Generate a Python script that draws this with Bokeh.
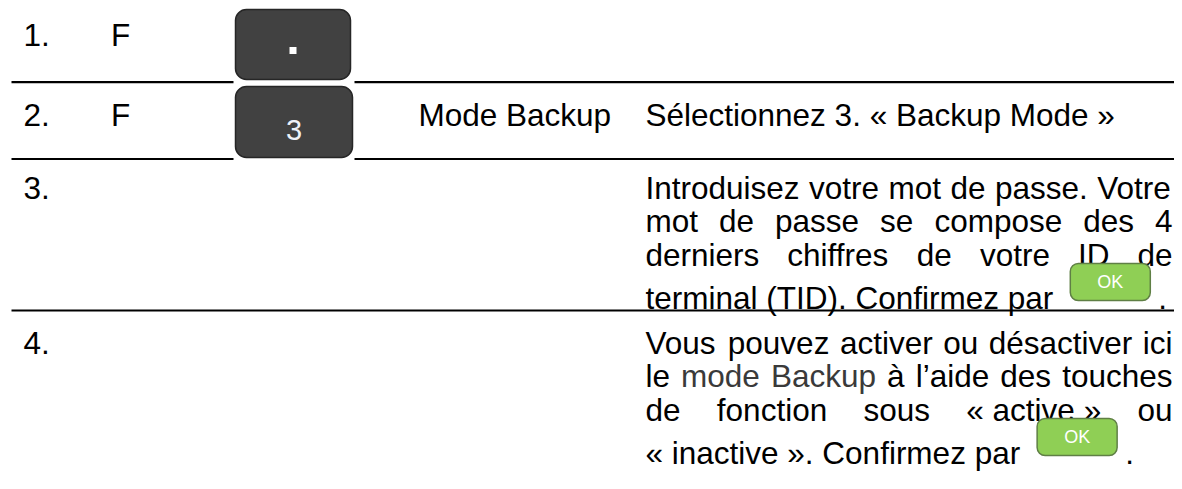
from bokeh.plotting import figure
from bokeh.models import Range1d
from bokeh.core.properties import value
from bokeh.embed import file_html
from bokeh.resources import INLINE

# ---------------- content (data) ----------------
step_numbers = ["1.", "2.", "3.", "4."]
key_letters = ["F", "F", "", ""]
function_names = ["", "Mode Backup", "", ""]
row2_text = "Sélectionnez 3. « Backup Mode »"
row3_lines = [
    "Introduisez votre mot de passe. Votre",
    "mot de passe se compose des 4",
    "derniers chiffres de votre ID de",
    "terminal (TID). Confirmez par",
]
row4_lines = [
    "Vous pouvez activer ou désactiver ici",
    "le mode Backup à l\u2019aide des touches",
    "de fonction sous \u00ab\u00a0active\u00a0» ou",
    "\u00ab\u00a0inactive\u00a0». Confirmez par",
]
gray_words = ["mode", "Backup"]   # words of row 4, line 2 printed in dark gray
key_button_labels = ["", "3"]
ok_label = "OK"

# ---------------- layout constants (screen pixels) ----------------
WIDTH, HEIGHT = 1174, 473
FONT = "Liberation Sans"
FS = 31.5
LINE = 33.5
LAST_EXTRA = 43.0
COL_X = [23.0, 110.5, 418.0, 645.0]
RIGHT = 1172.0
RULES_Y = [81.7, 158.5, 310.0]
RULE_X0, RULE_X1 = 11.0, 1182.0
ROW_BASE = [34.0, 114.0, 187.0, 342.0]
KEY_BTN = [(235.0, 350.0, 9.0, 79.0), (235.0, 352.0, 86.0, 157.0)]
GAP_X = (233.0, 354.0)
OK_W, OK_H = 80.0, 37.0

# Arial / Liberation Sans advance widths (1/1000 em)
W = {" ": 278, "\u00a0": 278, ".": 278, "(": 333, ")": 333, "\u00ab": 556, "»": 556,
     "\u2019": 222, "é": 556, "à": 556}
W.update(dict(zip("abcdefghijklmnopqrstuvwxyz",
                  [556, 556, 500, 556, 556, 278, 556, 556, 222, 222, 500, 222, 833,
                   556, 556, 556, 556, 333, 500, 278, 556, 500, 722, 500, 500, 500])))
W.update(dict(zip("ABCDEFGHIJKLMNOPQRSTUVWXYZ",
                  [667, 667, 722, 722, 667, 611, 778, 722, 278, 500, 667, 556, 833,
                   722, 778, 667, 778, 722, 667, 611, 722, 667, 944, 667, 667, 611])))
for d in "0123456789":
    W[d] = 556


def tw(s, size=FS):
    return sum(W.get(c, 556) for c in s) / 1000.0 * size


p = figure(width=WIDTH, height=HEIGHT, output_backend="svg", toolbar_location=None,
           x_range=Range1d(0, WIDTH), y_range=Range1d(HEIGHT, 0),
           x_axis_location=None, y_axis_location=None, min_border=0,
           background_fill_color="white", border_fill_color="white")
p.outline_line_color = None
p.xgrid.visible = False
p.ygrid.visible = False

# ---------------- rules ----------------
p.segment(x0=[RULE_X0] * len(RULES_Y), x1=[RULE_X1] * len(RULES_Y),
          y0=RULES_Y, y1=RULES_Y, line_color="black", line_width=2.2)
# white backgrounds of the key pictures interrupt the first two rules
p.quad(left=[GAP_X[0]] * 2, right=[GAP_X[1]] * 2,
       top=[RULES_Y[0] - 3, RULES_Y[1] - 3], bottom=[RULES_Y[0] + 3, RULES_Y[1] + 3],
       fill_color="white", line_color=None)

# ---------------- key buttons ----------------
p.quad(left=[b[0] for b in KEY_BTN], right=[b[1] for b in KEY_BTN],
       top=[b[2] for b in KEY_BTN], bottom=[b[3] for b in KEY_BTN],
       fill_color="#414141", line_color="#262626", line_width=1.5, border_radius=11)
cx = [(b[0] + b[1]) / 2 for b in KEY_BTN]
cy = [(b[2] + b[3]) / 2 for b in KEY_BTN]
p.scatter(x=[cx[0]], y=[cy[0] + 6], marker="square", size=7,
          fill_color="white", line_color=None)
p.text(x=[cx[1]], y=[cy[1] + 8], text=[key_button_labels[1]],
       text_font=value(FONT), text_font_size=value("29px"), text_color="#eef2f8",
       text_align="center", text_baseline="alphabetic")

# ---------------- left columns ----------------
p.text(x=[COL_X[0]] * 4, y=ROW_BASE, text=step_numbers, text_font=value(FONT),
       text_font_size=value(f"{FS}px"), text_color="black", text_baseline="alphabetic")
ki = [i for i, k in enumerate(key_letters) if k]
p.text(x=[COL_X[1]] * len(ki), y=[ROW_BASE[i] for i in ki], text=[key_letters[i] for i in ki],
       text_font=value(FONT), text_font_size=value(f"{FS}px"), text_color="black",
       text_baseline="alphabetic")
fi = [i for i, k in enumerate(function_names) if k]
p.text(x=[COL_X[2]] * len(fi), y=[ROW_BASE[i] for i in fi], text=[function_names[i] for i in fi],
       text_font=value(FONT), text_font_size=value(f"{FS}px"), text_color="black",
       text_baseline="alphabetic")

# ---------------- description column ----------------
wx, wy, wt, wc = [], [], [], []
wx.append(COL_X[3]); wy.append(ROW_BASE[1]); wt.append(row2_text); wc.append("black")

ok_boxes = []
for base, lines, grays in ((ROW_BASE[2], row3_lines, []), (ROW_BASE[3], row4_lines, gray_words)):
    for li, line in enumerate(lines):
        if li < len(lines) - 1:
            y = base + li * LINE
            words = line.split(" ")
            total = sum(tw(w) for w in words)
            gap = (RIGHT - COL_X[3] - total) / (len(words) - 1)
            x = COL_X[3]
            for w in words:
                wx.append(x); wy.append(y); wt.append(w)
                wc.append("#3a3a3a" if (grays and li == 1 and w in grays) else "black")
                x += tw(w) + gap
        else:
            y = base + (li - 1) * LINE + LAST_EXTRA
            wx.append(COL_X[3]); wy.append(y); wt.append(line); wc.append("black")
            left = COL_X[3] + tw(line) + 17
            ok_boxes.append((left, y))
            wx.append(left + OK_W + 8); wy.append(y); wt.append("."); wc.append("black")

p.text(x=wx, y=wy, text=wt, text_color=wc, text_font=value(FONT),
       text_font_size=value(f"{FS}px"), text_baseline="alphabetic", text_align="left")

# ---------------- OK buttons ----------------
ol = [b[0] for b in ok_boxes]
ob = [b[1] + 3 for b in ok_boxes]
p.quad(left=ol, right=[l + OK_W for l in ol], top=[b - OK_H for b in ob], bottom=ob,
       fill_color="#8fcf55", line_color="#5f7f45", line_width=1.5, border_radius=8)
p.text(x=[l + OK_W / 2 for l in ol], y=[b - OK_H + 18 for b in ob], text=[ok_label] * len(ol),
       text_font=value(FONT), text_font_size=value("18px"), text_color="white",
       text_align="center", text_baseline="alphabetic")

open("out.html", "w").write(file_html(p, INLINE))
